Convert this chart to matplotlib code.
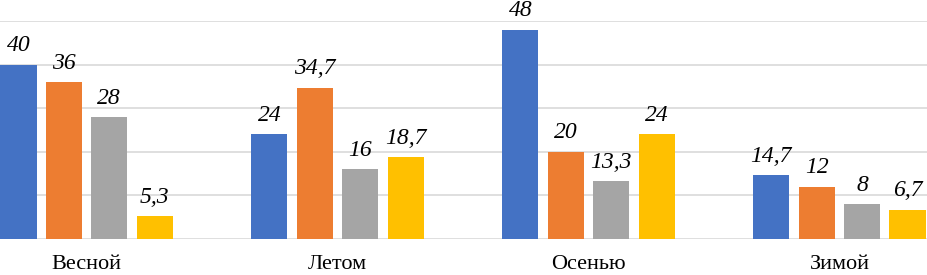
import matplotlib
matplotlib.use('Agg')
import matplotlib.pyplot as plt
import numpy as np

plt.rcParams['font.family'] = 'serif'
plt.rcParams['font.serif'] = ['Liberation Serif', 'DejaVu Serif']

# ── data ─────────────────────────────────────────────────────────────────────
seasons = ['Весной', 'Летом', 'Осенью', 'Зимой']
s1 = [40, 24, 48, 14.7]
s2 = [36, 34.7, 20, 12]
s3 = [28, 16, 13.3, 8]
s4 = [5.3, 18.7, 24, 6.7]

series = [s1, s2, s3, s4]
colors = ['#4472C4', '#ED7D31', '#A5A5A5', '#FFC000']

# ── plotting ─────────────────────────────────────────────────────────────────
fig = plt.figure(figsize=(9.27, 2.75), dpi=100)
ax = fig.add_axes([0, 36/275, 1, 218/275])

x = np.arange(len(seasons))
step = 0.181
width = 0.144

for i, (vals, c) in enumerate(zip(series, colors)):
    pos = x + (i - 1.5) * step
    ax.bar(pos, vals, width=width, color=c, zorder=3)
    for p, v in zip(pos, vals):
        txt = f'{v:g}'.replace('.', ',')
        ax.annotate(txt, (p, v), xytext=(0, 6), textcoords='offset points',
                    ha='center', va='bottom', fontsize=17, style='italic',
                    annotation_clip=False)

ax.set_xlim(-0.345, 3.349)
ax.set_ylim(0, 50)
ax.set_yticks(np.arange(0, 51, 10))
ax.yaxis.grid(True, color='#D9D9D9', lw=1.2, zorder=0)
ax.tick_params(axis='y', left=False, labelleft=False)
ax.tick_params(axis='x', bottom=False, labelsize=16, pad=8)
ax.set_xticks(x)
ax.set_xticklabels(seasons)
for sp in ax.spines.values():
    sp.set_visible(False)

plt.savefig('out.png', dpi=100)
plt.close()
